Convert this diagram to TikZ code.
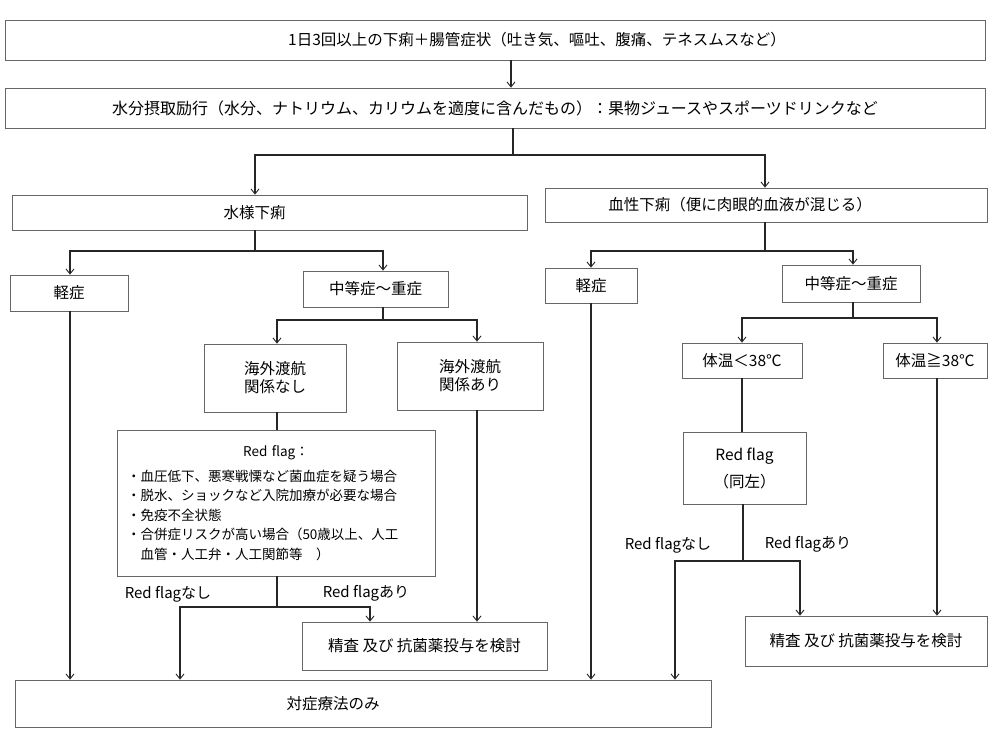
\documentclass[tikz,border=0pt]{standalone}
\usepackage{fontspec}
\setmainfont{Noto Sans CJK JP}
\usetikzlibrary{arrows.meta}
\begin{document}
\begin{tikzpicture}[x=1pt,y=-1pt,
  box/.style={draw=black!60, line width=0.7pt, inner sep=0pt, font=\fontsize{15.5}{18}\selectfont, align=center},
  conn/.style={draw=black!85, line width=1.1pt},
  arr/.style={conn, -{Straight Barb[length=5pt,width=8pt,line width=0.9pt]}},
  lbl/.style={font=\fontsize{15}{17}\selectfont, inner sep=0pt}]
\useasboundingbox (0,0) rectangle (989,730);
\fill[white] (0,0) rectangle (989,730);

% boxes
\node[box, minimum width=980pt, minimum height=40pt] (b1) at (495,40)
  {\hspace*{84pt}1日3回以上の下痢＋腸管症状（吐き気、嘔吐、腹痛、テネスムスなど）};
\node[box, minimum width=980pt, minimum height=40pt, font=\fontsize{16}{18}\selectfont] (b2) at (495,108)
  {水分摂取励行（水分、ナトリウム、カリウムを適度に含んだもの）：果物ジュースやスポーツドリンクなど};
\node[box, minimum width=515pt, minimum height=35pt] (water) at (269.5,212.5)
  {水様下痢\hspace*{30pt}};
\node[box, minimum width=442pt, minimum height=34pt] (blood) at (766,205)
  {血性下痢（便に肉眼的血液が混じる）\hspace*{52pt}};
\node[box, minimum width=118pt, minimum height=36pt] (mildL) at (69,293) {軽症};
\node[box, minimum width=145pt, minimum height=36pt] (modL) at (375.5,289) {中等症～重症};
\node[box, minimum width=92pt, minimum height=35pt] (mildR) at (591,285.5) {軽症};
\node[box, minimum width=138pt, minimum height=37pt] (modR) at (851,283.5) {中等症～重症};
\node[box, minimum width=142pt, minimum height=68pt] (notrav) at (275,378) {海外渡航\\関係なし};
\node[box, minimum width=146pt, minimum height=68pt] (trav) at (470,376) {海外渡航\\関係あり};
\node[box, minimum width=120pt, minimum height=35pt] (tempL) at (742,360.5) {体温＜38℃};
\node[box, minimum width=104pt, minimum height=35pt] (tempH) at (935,360.5) {体温≧38℃};
\node[box, minimum width=318pt, minimum height=146pt, text width=298pt, align=left,
      font=\fontsize{13.5}{19.5}\selectfont] (rfL) at (276,503)
  {\makebox[298pt][c]{Red flag：}\\[5pt]
   ・血圧低下、悪寒戦慄など菌血症を疑う場合\\
   ・脱水、ショックなど入院加療が必要な場合\\
   ・免疫不全状態\\
   ・合併症リスクが高い場合（50歳以上、人工\\
   \hspace*{1em}血管・人工弁・人工関節等　）};
\node[box, minimum width=123pt, minimum height=72pt, font=\fontsize{15.5}{27}\selectfont] (rfR) at (744.5,468)
  {Red flag\\（同左）};
\node[box, minimum width=245pt, minimum height=48pt] (treatL) at (424.5,646) {精査 及び 抗菌薬投与を検討};
\node[box, minimum width=242pt, minimum height=50pt] (treatR) at (866,641) {精査 及び 抗菌薬投与を検討};
\node[box, minimum width=696pt, minimum height=47pt] (sympt) at (363,703.5) {対症療法のみ\hspace*{60pt}};

% labels
\node[lbl] (lnL) at (168,594) {Red flagなし};
\node[lbl] (laL) at (366,593) {Red flagあり};
\node[lbl] (lnR) at (668,545) {Red flagなし};
\node[lbl] (laR) at (808,544) {Red flagあり};

% x positions of connectors
\coordinate (x1) at (511,0);
\coordinate (xw) at (255,0);
\coordinate (xb) at (765,0);
\coordinate (xml) at (70,0);
\coordinate (xmL) at (383,0);
\coordinate (xmR) at (853,0);
\coordinate (xnt) at (277,0);
\coordinate (xtr) at (477,0);
\coordinate (xth) at (937,0);
\coordinate (xrl) at (180,0);
\coordinate (xra) at (370,0);
\coordinate (xrr) at (675,0);
\coordinate (xrs) at (800,0);
\coordinate (xtl) at (742,0);

% junctions
\coordinate (j0) at (513,155);
\coordinate (j1) at (255,251);
\coordinate (j2) at (765,251);
\coordinate (j3) at (383,320);
\coordinate (j4) at (853,318);
\coordinate (j5) at (277,607);
\coordinate (j6) at (743,561);

% connectors
\draw[arr] (b1.south -| x1) -- (b2.north -| x1);
\draw[conn] (b2.south -| j0) -- (j0);
\draw[arr] (j0) -| (water.north -| xw);
\draw[arr] (j0) -| (blood.north -| xb);

\draw[conn] (water.south -| j1) -- (j1);
\draw[arr] (j1) -| (mildL.north -| xml);
\draw[arr] (j1) -| (modL.north -| xmL);

\draw[conn] (blood.south -| j2) -- (j2);
\draw[arr] (j2) -| (mildR.north);
\draw[arr] (j2) -| (modR.north -| xmR);

\draw[conn] (modL.south -| j3) -- (j3);
\draw[arr] (j3) -| (notrav.north -| xnt);
\draw[arr] (j3) -| (trav.north -| xtr);

\draw[conn] (modR.south -| j4) -- (j4);
\draw[arr] (j4) -| (tempL.north);
\draw[arr] (j4) -| (tempH.north -| xth);

\draw[arr] (mildL.south -| xml) -- (sympt.north -| xml);
\draw[conn] (notrav.south -| xnt) -- (rfL.north -| xnt);
\draw[arr] (trav.south -| xtr) -- (treatL.north -| xtr);

\draw[conn] (rfL.south -| j5) -- (j5);
\draw[arr] (j5) -| (sympt.north -| xrl);
\draw[arr] (j5) -| (treatL.north -| xra);

\draw[arr] (mildR.south) -- (sympt.north -| mildR.south);
\draw[conn] (tempL.south -| xtl) -- (rfR.north -| xtl);

\draw[conn] (rfR.south -| j6) -- (j6);
\draw[arr] (j6) -| (sympt.north -| xrr);
\draw[arr] (j6) -| (treatR.north -| xrs);

\draw[arr] (tempH.south -| xth) -- (treatR.north -| xth);
\end{tikzpicture}
\end{document}
